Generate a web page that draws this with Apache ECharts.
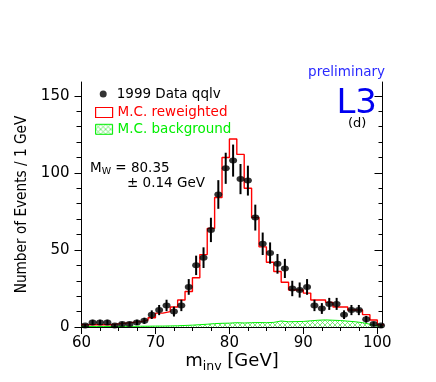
<!DOCTYPE html>
<html><head><meta charset="utf-8">
<script src="https://cdn.jsdelivr.net/npm/echarts@6/dist/echarts.min.js"></script>
<style>html,body{margin:0;padding:0;background:#fff}#c{width:436px;height:382px}</style>
</head><body><div id="c"></div>
<script>
// ---- data (1 GeV bins) ----
const binCenters = [60.5,61.5,62.5,63.5,64.5,65.5,66.5,67.5,68.5,69.5,
  70.5,71.5,72.5,73.5,74.5,75.5,76.5,77.5,78.5,79.5,
  80.5,81.5,82.5,83.5,84.5,85.5,86.5,87.5,88.5,89.5,
  90.5,91.5,92.5,93.5,94.5,95.5,96.5,97.5,98.5,99.5,100.5];
const dataCounts = [1,3,3,3,1,2,2,3,4,8,
  11,14,10,14,26,40,45,63,86,103,
  108,96,95,71,54,48,41,38,25,24,
  26,14,12,15,15,8,11,11,5,2,1];
const dataErrors = [1,1.7,1.7,1.7,1,1.4,1.4,1.7,2,2.8,
  3.3,3.7,3.2,3.7,5.1,6.3,6.7,7.9,9.3,10.1,
  10.4,9.8,9.7,8.4,7.3,6.9,6.4,6.2,5,4.9,
  5.1,3.7,3.5,3.9,3.9,2.8,3.3,3.3,2.2,1.4,1];
const mcReweighted = [1.5,1.5,1.5,1.5,2,2.5,3,3.5,4.5,6,
  9,10,13,17.5,23,32,47,64,84,110,
  122,112,90,71,52,42,36,29,24,24,
  22,17.5,17.5,16,13,13,11,11,8,4.5,1.5];
const mcBackground = [0.3,0.3,0.3,0.3,0.3,0.4,0.4,0.5,0.5,0.6,
  0.6,0.7,0.8,1.0,1.2,1.5,1.8,2.2,2.4,2.5,
  2.8,2.6,2.8,2.9,2.8,3.0,3.9,3.4,3.5,3.6,
  4.0,4.4,4.6,4.4,4.2,3.8,3.4,2.8,1.8,0.8,0.3];
const xTickLabels = ['60','70','80','90','100'];
const yTickLabels = ['0','50','100','150'];
const legendNames = ['1999 Data qqlv','M.C. reweighted','M.C. background'];

const X_MIN = 60, X_MAX = 100.7, Y_MIN = 0, Y_MAX = 159;
const xMajor = xTickLabels.map(Number);
const yMajor = yTickLabels.map(Number);
const xMinor = []; for (let v = 60; v <= 100; v += 2.5) xMinor.push(v);
const yMinor = []; for (let v = 0; v <= 150; v += 10) yMinor.push(v);

// histogram edges
const edges = binCenters.map(c => c - 0.5);
edges.push(binCenters[binCenters.length - 1] + 0.5);
const stepData = arr => edges.map((e, i) => [e, arr[Math.min(i, arr.length - 1)]]);

// hatch pattern
const pc = document.createElement('canvas'); pc.width = 5; pc.height = 5;
const g = pc.getContext('2d');
g.strokeStyle = '#55e855'; g.lineWidth = 0.8;
g.beginPath(); g.moveTo(0, 0); g.lineTo(5, 5); g.moveTo(5, 0); g.lineTo(0, 5); g.stroke();
const hatch = { image: pc, repeat: 'repeat' };

const FONT = 'DejaVu Sans';
const base = { type: 'value', min: X_MIN, max: X_MAX, splitLine: { show: false } };
const ybase = { type: 'value', min: Y_MIN, max: Y_MAX, splitLine: { show: false } };
const blk = { color: '#000', width: 1 };

const chart = echarts.init(document.getElementById('c'));
chart.setOption({
  animation: false,
  backgroundColor: '#fff',
  grid: { left: 81.5, right: 53.5, top: 82, bottom: 55, containLabel: false },
  xAxis: [
    Object.assign({}, base, { position: 'bottom',
      axisLine: { show: true, lineStyle: blk },
      axisTick: { show: true, inside: false, length: 5, lineStyle: blk, customValues: xMajor },
      axisLabel: { show: true, customValues: xMajor, margin: 9, color: '#000', fontSize: 15, fontFamily: FONT },
      name: 'm{sub|inv} [GeV]', nameLocation: 'middle', nameGap: 23, nameMoveOverlap: false,
      nameTextStyle: { color: '#000', fontSize: 18, fontFamily: FONT,
        rich: { sub: { fontSize: 12.5, fontFamily: FONT, color: '#000', padding: [10, 0, 0, 0] } } } }),
    Object.assign({}, base, { position: 'bottom',
      axisLine: { show: false }, axisLabel: { show: false },
      axisTick: { show: true, inside: false, length: 3, lineStyle: blk, customValues: xMinor } }),
    Object.assign({}, base, { position: 'top',
      axisLine: { show: true, lineStyle: blk }, axisLabel: { show: false },
      axisTick: { show: true, inside: true, length: 7, lineStyle: blk, customValues: xMajor } }),
    Object.assign({}, base, { position: 'top',
      axisLine: { show: false }, axisLabel: { show: false },
      axisTick: { show: true, inside: true, length: 4, lineStyle: blk, customValues: xMinor } })
  ],
  yAxis: [
    Object.assign({}, ybase, { position: 'left',
      axisLine: { show: true, lineStyle: blk },
      axisTick: { show: true, inside: false, length: 7, lineStyle: blk, customValues: yMajor },
      axisLabel: { show: true, customValues: yMajor, margin: 12, color: '#000', fontSize: 15, fontFamily: FONT },
      name: 'Number of Events / 1 GeV', nameLocation: 'middle', nameGap: 51, nameRotate: 90,
      nameTextStyle: { color: '#000', fontSize: 15.2, fontFamily: 'DejaVu Sans Condensed, Liberation Sans' } }),
    Object.assign({}, ybase, { position: 'left',
      axisLine: { show: false }, axisLabel: { show: false },
      axisTick: { show: true, inside: false, length: 5, lineStyle: blk, customValues: yMinor } }),
    Object.assign({}, ybase, { position: 'right',
      axisLine: { show: true, lineStyle: blk }, axisLabel: { show: false },
      axisTick: { show: true, inside: true, length: 8, lineStyle: blk, customValues: yMajor } }),
    Object.assign({}, ybase, { position: 'right',
      axisLine: { show: false }, axisLabel: { show: false },
      axisTick: { show: true, inside: true, length: 4, lineStyle: blk, customValues: yMinor } })
  ],
  legend: [
    { show: true, selectedMode: false, left: 94.7, top: 81, orient: 'vertical',
      itemWidth: 7, itemHeight: 7,
      textStyle: { fontSize: 13.5, fontFamily: FONT, color: '#000', padding: [0, 0, 0, 5], lineHeight: 16 },
      data: [{ name: legendNames[0], icon: 'circle', itemStyle: { color: '#000' } }] },
    { show: true, selectedMode: false, left: 90, top: 99.5, orient: 'vertical',
      itemWidth: 17, itemHeight: 10, itemGap: 0.8,
      textStyle: { fontSize: 13.5, fontFamily: FONT, lineHeight: 16 },
      data: [
        { name: legendNames[1], icon: 'rect', textStyle: { color: '#ff0000' },
          itemStyle: { color: 'rgba(0,0,0,0)', borderColor: '#ff0000', borderWidth: 1.2 } },
        { name: legendNames[2], icon: 'rect', textStyle: { color: '#00ee00' },
          itemStyle: { color: hatch, borderColor: '#00ee00', borderWidth: 1 } }
      ] }
  ],
  series: [
    { name: legendNames[2], type: 'line', step: 'end', xAxisIndex: 0, yAxisIndex: 0,
      data: stepData(mcBackground), symbol: 'none', z: 2,
      lineStyle: { color: '#00ee00', width: 1 }, itemStyle: { color: '#00ee00' },
      areaStyle: { color: hatch, opacity: 1 } },
    { name: legendNames[1], type: 'line', step: 'end', xAxisIndex: 0, yAxisIndex: 0,
      data: stepData(mcReweighted), symbol: 'none', z: 3,
      lineStyle: { color: '#ff0000', width: 1.4 }, itemStyle: { color: '#ff0000' } },
    { name: 'errors', type: 'custom', xAxisIndex: 0, yAxisIndex: 0, z: 4, clip: true,
      data: binCenters.map((c, i) => [c, dataCounts[i], dataErrors[i]]),
      encode: { x: 0, y: 1 },
      renderItem: (params, api) => {
        const x = api.value(0), y = api.value(1), e = api.value(2);
        const p1 = api.coord([x, y - e]), p2 = api.coord([x, y + e]);
        return { type: 'line', shape: { x1: p1[0], y1: p1[1], x2: p2[0], y2: p2[1] },
          style: { stroke: '#000', lineWidth: 2 } };
      } },
    { name: legendNames[0], type: 'scatter', xAxisIndex: 0, yAxisIndex: 0, z: 5,
      data: binCenters.map((c, i) => [c, dataCounts[i]]),
      symbol: 'circle', symbolSize: [8, 6], itemStyle: { color: '#000' } }
  ],
  graphic: [
    { type: 'text', right: 51, top: 65, style: { text: 'preliminary', fill: '#2a2aff', fontSize: 13.5, fontFamily: FONT } },
    { type: 'text', right: 59, top: 87, style: { text: 'L3', fill: '#0000f0', fontSize: 34, fontFamily: FONT } },
    { type: 'text', left: 348, top: 117, style: { text: '(d)', fill: '#000', fontSize: 13, fontFamily: FONT } },
    { type: 'text', left: 90, top: 161, style: { text: '{m|M}{s|W}{m| = 80.35}', fill: '#000',
        rich: { m: { fontSize: 13.5, fontFamily: FONT, fill: '#000' },
                s: { fontSize: 9.5, fontFamily: FONT, fill: '#000', padding: [7, 0, 0, 0] } } } },
    { type: 'text', left: 127, top: 176, style: { text: '\u00b1 0.14 GeV', fill: '#000', fontSize: 13.5, fontFamily: FONT } }
  ]
});
</script></body></html>
